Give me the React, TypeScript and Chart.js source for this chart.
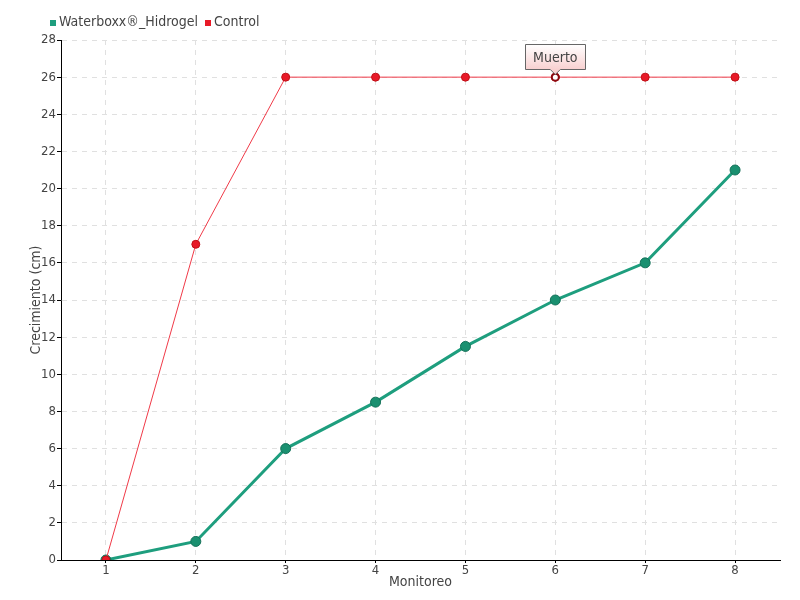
import React, { useEffect, useRef } from "react";
import { Chart, registerables } from "chart.js";

Chart.register(...registerables);

const categories = ["1", "2", "3", "4", "5", "6", "7", "8"];
const seriesNames = ["Waterboxx®_Hidrogel", "Control"];
const waterboxx = [0, 1, 6, 8.5, 11.5, 14, 16, 21];
const control = [0, 17, 26, 26, 26, 26, 26, 26];
const annotationIndex = 5;
const annotationText = "Muerto";

const FONT = "'DejaVu Sans Condensed', 'DejaVu Sans', sans-serif";
const TEAL = "#1e9e7e";
const RED = "#e81a28";

const legendPlugin = {
  id: "customLegend",
  afterDraw(chart: any) {
    const ctx = chart.ctx;
    ctx.save();
    ctx.font = "14px " + FONT;
    ctx.textBaseline = "middle";
    ctx.textAlign = "left";
    let x = 50;
    const y = 22;
    const colors = [TEAL, RED];
    seriesNames.forEach((name, i) => {
      ctx.fillStyle = colors[i];
      ctx.fillRect(x, y - 2, 6, 6);
      x += 9;
      ctx.fillStyle = "#444444";
      ctx.fillText(name, x, y);
      x += ctx.measureText(name).width + 7;
    });
    ctx.restore();
  },
};

const annotationPlugin = {
  id: "muerto",
  afterDatasetsDraw(chart: any) {
    const meta = chart.getDatasetMeta(1);
    const el = meta.data[annotationIndex];
    if (!el) return;
    const ctx = chart.ctx;
    const x = el.x;
    const y = el.y;
    ctx.save();
    ctx.beginPath();
    ctx.arc(x, y, 3.5, 0, Math.PI * 2);
    ctx.fillStyle = "#ffffff";
    ctx.fill();
    ctx.lineWidth = 2;
    ctx.strokeStyle = "#8a0a10";
    ctx.stroke();
    const w = 60;
    const h = 25;
    const bx = Math.round(x - w / 2) + 0.5;
    const by = Math.round(y - 8 - h) + 0.5;
    const grad = ctx.createLinearGradient(0, by, 0, by + h);
    grad.addColorStop(0, "#ffffff");
    grad.addColorStop(1, "#f8d0d0");
    ctx.beginPath();
    ctx.moveTo(bx, by);
    ctx.lineTo(bx + w, by);
    ctx.lineTo(bx + w, by + h);
    ctx.lineTo(x + 5, by + h);
    ctx.lineTo(x, by + h + 5);
    ctx.lineTo(x - 5, by + h);
    ctx.lineTo(bx, by + h);
    ctx.closePath();
    ctx.fillStyle = grad;
    ctx.fill();
    ctx.strokeStyle = "#666666";
    ctx.lineWidth = 1;
    ctx.stroke();
    ctx.fillStyle = "#444444";
    ctx.font = "14px " + FONT;
    ctx.textAlign = "center";
    ctx.textBaseline = "middle";
    ctx.fillText(annotationText, x, by + h / 2 + 1);
    ctx.restore();
  },
};

export default function App() {
  const ref = useRef<HTMLCanvasElement | null>(null);
  useEffect(() => {
    document.body.style.margin = "0";
    const canvas = ref.current!;
    const chart = new Chart(canvas, {
      type: "line",
      data: {
        labels: categories,
        datasets: [
          {
            label: seriesNames[0],
            data: waterboxx,
            order: 1,
            borderColor: TEAL,
            backgroundColor: TEAL,
            borderWidth: 3,
            pointRadius: 5,
            pointBackgroundColor: "#1a9070",
            pointBorderColor: "#147058",
            pointBorderWidth: 1,
            tension: 0,
          },
          {
            label: seriesNames[1],
            data: control,
            order: 0,
            borderColor: "#f03a48",
            backgroundColor: RED,
            borderWidth: 1,
            pointRadius: 4,
            pointBackgroundColor: RED,
            pointBorderColor: "#c01018",
            pointBorderWidth: 1,
            tension: 0,
          },
        ],
      },
      options: {
        animation: false,
        responsive: false,
        layout: { padding: { left: 28, right: 20, top: 40, bottom: 9 } },
        plugins: {
          legend: { display: false },
          tooltip: { enabled: false },
        },
        scales: {
          x: {
            offset: true,
            afterFit: (s: any) => {
              s.height = 31;
            },
            grid: {
              offset: false,
              color: "#e0e0e0",
              tickColor: "#000000",
              tickBorderDash: [],
              tickLength: 3,
            } as any,
            border: { color: "#000000", width: 1, dash: [5, 5] } as any,
            ticks: { color: "#444444", font: { family: FONT, size: 13 }, padding: 0 },
            title: { display: true, text: "Monitoreo", color: "#444444", font: { family: FONT, size: 14 }, padding: 0 },
          },
          y: {
            min: 0,
            max: 28,
            afterFit: (s: any) => {
              s.width = 33;
            },
            grid: {
              color: "#e0e0e0",
              tickColor: "#000000",
              tickBorderDash: [],
              tickLength: 4,
            } as any,
            border: { color: "#000000", width: 1, dash: [5, 5] } as any,
            ticks: { stepSize: 2, color: "#444444", font: { family: FONT, size: 13 }, padding: 1 },
            title: { display: true, text: "Crecimiento (cm)", color: "#444444", font: { family: FONT, size: 14 }, padding: 0 },
          },
        },
      },
      plugins: [annotationPlugin, legendPlugin],
    });
    return () => chart.destroy();
  }, []);
  return (
    <div style={{ position: "absolute", left: 0, top: 0, width: 800, height: 600 }}>
      <canvas ref={ref} width={800} height={600} />
    </div>
  );
}
